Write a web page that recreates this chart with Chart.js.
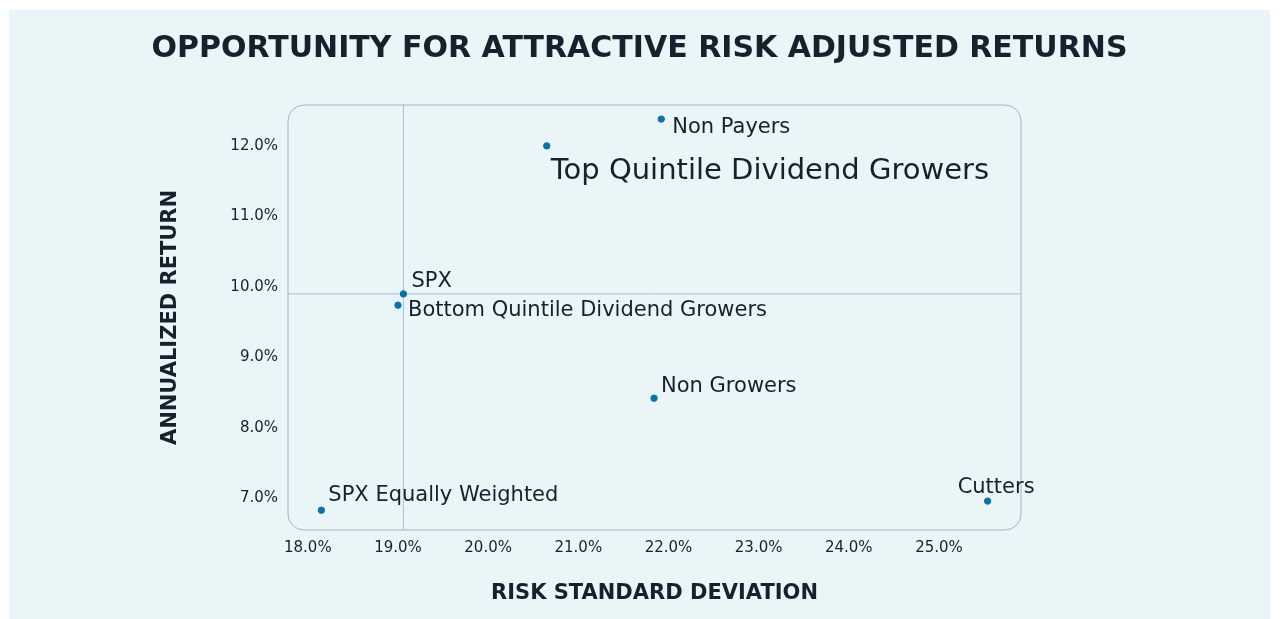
<!DOCTYPE html>
<html>
<head>
<meta charset="utf-8">
<script src="https://cdn.jsdelivr.net/npm/chart.js@4.4.0/dist/chart.umd.min.js"></script>
<style>
  html, body { margin: 0; padding: 0; background: #ffffff; }
  #wrap { position: absolute; left: 9px; top: 10px; width: 1261px; height: 609px; background: #eaf5f8; }
</style>
</head>
<body>
<div id="wrap"><canvas id="riskChart" width="1261" height="609"></canvas></div>
<script>
// groups, risk (std dev %) and annualized return (%)
var groups = ['Non Payers', 'Top Quintile Dividend Growers', 'SPX', 'Bottom Quintile Dividend Growers',
              'Non Growers', 'SPX Equally Weighted', 'Cutters'];
var riskValues = [21.92, 20.65, 19.06, 19.00, 21.84, 18.15, 25.54];
var returnValues = [12.38, 12.00, 9.90, 9.74, 8.42, 6.83, 6.96];
var xTicks = [18, 19, 20, 21, 22, 23, 24, 25];
var yTicks = [7, 8, 9, 10, 11, 12];
var benchmark = 'SPX';

// label placement relative to each point (pixels)
var labelStyle = {
    'Non Payers': { dx: 11, dy: 8, size: 21 },
    'Top Quintile Dividend Growers': { dx: 4, dy: 26, size: 29 },
    'SPX': { dx: 8, dy: -12, size: 21 },
    'Bottom Quintile Dividend Growers': { dx: 10, dy: 5, size: 21 },
    'Non Growers': { dx: 7, dy: -12, size: 21 },
    'SPX Equally Weighted': { dx: 7, dy: -15, size: 21 },
    'Cutters': { dx: -30, dy: -14, size: 21 }
};

var FONT = "'DejaVu Sans', sans-serif";
var TEXT = '#17212e';

var points = groups.map(function (g, i) {
    return { x: riskValues[i], y: returnValues[i], label: g };
});

var frame = {
    id: 'frame',
    beforeDatasetsDraw: function (chart) {
        var a = chart.chartArea, ctx = chart.ctx;
        var i = groups.indexOf(benchmark);
        var bx = chart.scales.x.getPixelForValue(riskValues[i]);
        var by = chart.scales.y.getPixelForValue(returnValues[i]);
        ctx.save();
        ctx.strokeStyle = '#a3bfd8';
        ctx.lineWidth = 1;
        ctx.beginPath();
        ctx.moveTo(bx, a.top); ctx.lineTo(bx, a.bottom);
        ctx.moveTo(a.left, by); ctx.lineTo(a.right, by);
        ctx.stroke();
        ctx.strokeStyle = '#9cb6c9';
        ctx.beginPath();
        ctx.roundRect(a.left, a.top, a.right - a.left, a.bottom - a.top, 16);
        ctx.stroke();
        ctx.restore();
    }
};

var pointLabels = {
    id: 'pointLabels',
    afterDatasetsDraw: function (chart) {
        var ctx = chart.ctx;
        var meta = chart.getDatasetMeta(0);
        ctx.save();
        ctx.fillStyle = TEXT;
        ctx.textAlign = 'left';
        ctx.textBaseline = 'middle';
        meta.data.forEach(function (el, i) {
            var s = labelStyle[groups[i]];
            ctx.font = s.size + 'px ' + FONT;
            ctx.fillText(groups[i], el.x + s.dx, el.y + s.dy);
        });
        ctx.restore();
    }
};

function pct(v) { return v.toFixed(1) + '%'; }

new Chart(document.getElementById('riskChart'), {
    type: 'scatter',
    data: {
        datasets: [{
            data: points,
            backgroundColor: '#0d72a4',
            borderColor: '#0d72a4',
            pointRadius: 3.2,
            pointHoverRadius: 3.2
        }]
    },
    options: {
        responsive: false,
        animation: false,
        layout: { padding: 0 },
        plugins: {
            legend: { display: false },
            tooltip: { enabled: false },
            title: {
                display: true,
                text: 'OPPORTUNITY FOR ATTRACTIVE RISK ADJUSTED RETURNS',
                color: TEXT,
                font: { family: FONT, size: 30, weight: 'bold', lineHeight: 1.2 },
                padding: { top: 21, bottom: 38 }
            }
        },
        scales: {
            x: {
                min: 17.78, max: 25.91,
                grid: { display: false, drawTicks: false },
                border: { display: false },
                afterBuildTicks: function (s) { s.ticks = xTicks.map(function (v) { return { value: v }; }); },
                afterFit: function (s) { s.height = 89; },
                ticks: { callback: pct, color: TEXT, padding: 9, maxRotation: 0, font: { family: FONT, size: 15 } },
                title: {
                    display: true, text: 'RISK STANDARD DEVIATION', color: TEXT,
                    font: { family: FONT, size: 21, weight: 'bold', lineHeight: 1.2 },
                    padding: { top: 0, bottom: 13 }
                }
            },
            y: {
                min: 6.55, max: 12.58,
                grid: { display: false, drawTicks: false },
                border: { display: false },
                afterBuildTicks: function (s) { s.ticks = yTicks.map(function (v) { return { value: v }; }); },
                afterFit: function (s) { s.width = 279; },
                ticks: { callback: pct, color: TEXT, padding: 10, font: { family: FONT, size: 15 } },
                title: {
                    display: true, text: 'ANNUALIZED RETURN', color: TEXT,
                    font: { family: FONT, size: 21, weight: 'bold', lineHeight: 1.2 },
                    padding: { top: 149, bottom: 0 }
                }
            },
            // empty right-hand axis that only reserves space so the title centres on the whole canvas
            spacer: {
                type: 'linear', position: 'right', display: true,
                grid: { display: false, drawTicks: false },
                border: { display: false },
                ticks: { display: false },
                afterFit: function (s) { s.width = 249; }
            }
        }
    },
    plugins: [frame, pointLabels]
});
</script>
</body>
</html>
